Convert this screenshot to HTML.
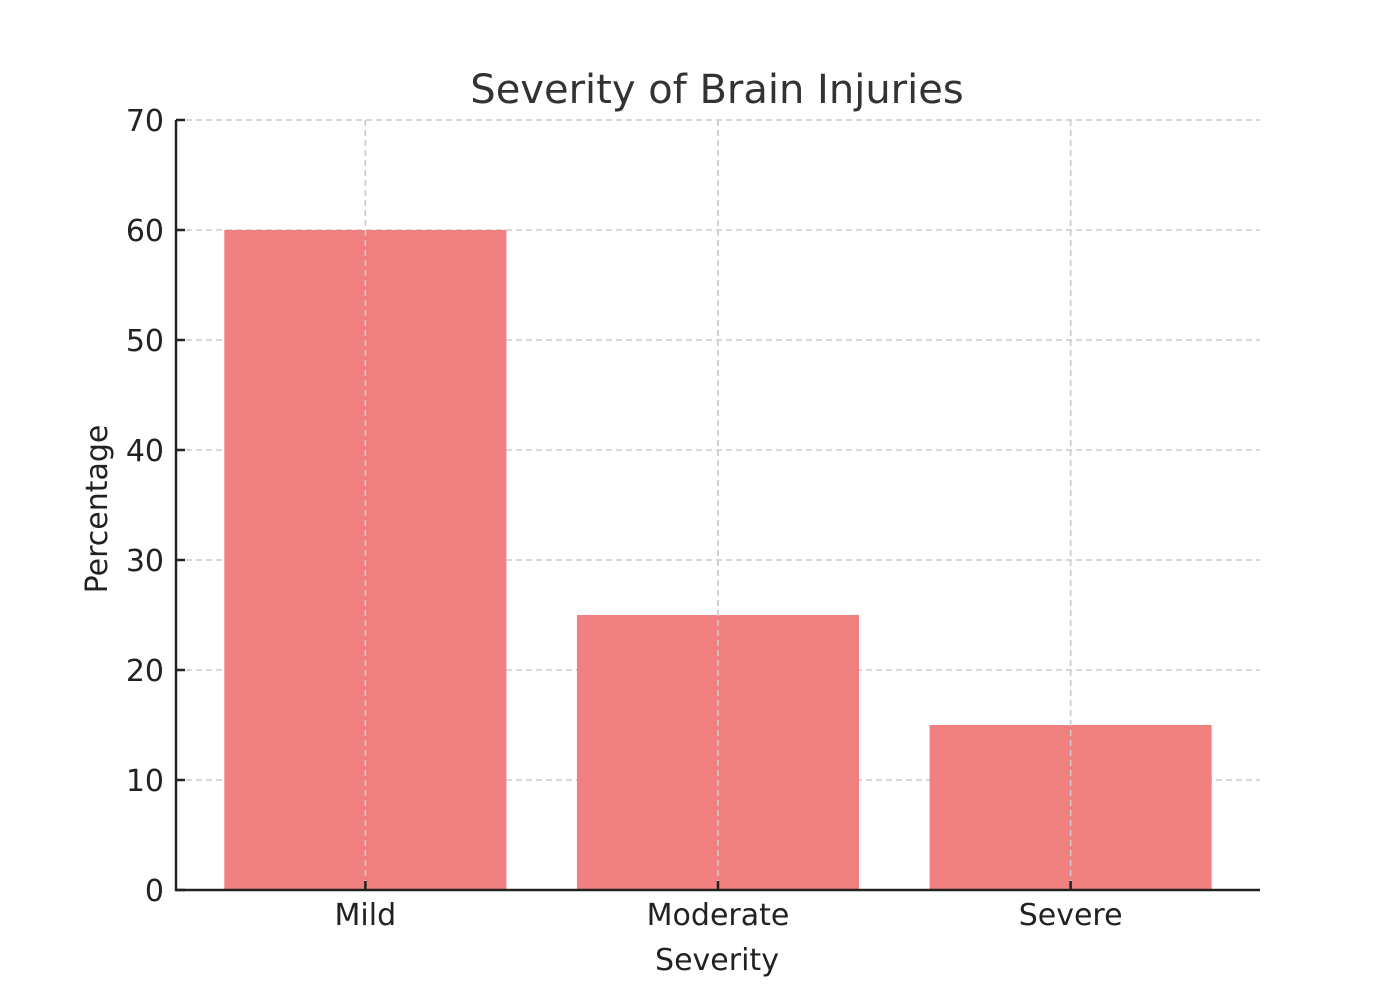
<!DOCTYPE html>
<html><head><meta charset="utf-8"><style>
body{margin:0;background:#fff}
svg text{font-family:"DejaVu Sans","Liberation Sans",sans-serif}
</style></head><body>
<svg id="chart" width="1400" height="1000" xmlns="http://www.w3.org/2000/svg">
<rect width="1400" height="1000" fill="#fff"/>
<text x="717" y="103" font-size="40" fill="#333" text-anchor="middle">Severity of Brain Injuries</text>
<g id="grid"></g><g id="bars"></g><g id="axes"></g>
<text x="717" y="970" font-size="30" fill="#222" text-anchor="middle">Severity</text>
<text transform="translate(107,509) rotate(-90)" font-size="30" fill="#222" text-anchor="middle">Percentage</text>
</svg>
<script>
const categories=["Mild","Moderate","Severe"];
const values=[60,25,15];
const yTicks=[0,10,20,30,40,50,60,70];
const NS="http://www.w3.org/2000/svg";
const L=176,R=1260,T=120,B=890;
const xMin=-0.537,xMax=2.537,yMax=70;
const xs=v=>L+(v-xMin)/(xMax-xMin)*(R-L);
const ys=v=>B-v/yMax*(B-T);
function mk(tag,attrs,parent){const e=document.createElementNS(NS,tag);for(const k in attrs)e.setAttribute(k,attrs[k]);document.getElementById(parent).appendChild(e);return e;}
yTicks.forEach(t=>{
 const g=mk('line',{x1:L,x2:R,y1:ys(t),y2:ys(t),stroke:'#ccc','stroke-width':1.5,'stroke-dasharray':'6,4'},'grid');
 
 
 const tk=mk('line',{x1:L,x2:L+9,y1:ys(t),y2:ys(t),stroke:'#222','stroke-width':2.5},'axes');
 
 
 const tx=mk('text',{x:L-12,y:ys(t)+11,'font-size':30,fill:'#222','text-anchor':'end'},'axes');
 tx.textContent=t;
 
 
});
categories.forEach((c,i)=>{
 const gl=mk('line',{x1:xs(i),x2:xs(i),y1:T,y2:B,stroke:'#ccc','stroke-width':1.5,'stroke-dasharray':'6,4'},'grid');
 
 
 const b=mk('rect',{x:xs(i-0.4),y:ys(values[i]),width:xs(i+0.4)-xs(i-0.4),height:B-ys(values[i]),fill:'#f08080'},'bars');
 
 
 const gl2=mk('line',{x1:xs(i),x2:xs(i),y1:T,y2:B,stroke:'#ccc','stroke-width':1.5,'stroke-dasharray':'6,4'},'bars');
 
 
 const tk=mk('line',{x1:xs(i),x2:xs(i),y1:B,y2:B-9,stroke:'#222','stroke-width':2.5},'axes');
 
 
 const tx=mk('text',{x:xs(i),y:B+35,'font-size':30,fill:'#222','text-anchor':'middle'},'axes');
 tx.textContent=c;
 
 
});
const ax=mk('path',{d:`M${L},${T} L${L},${B} L${R},${B}`,fill:'none',stroke:'#222','stroke-width':2.5},'axes');


</script>
</body></html>
